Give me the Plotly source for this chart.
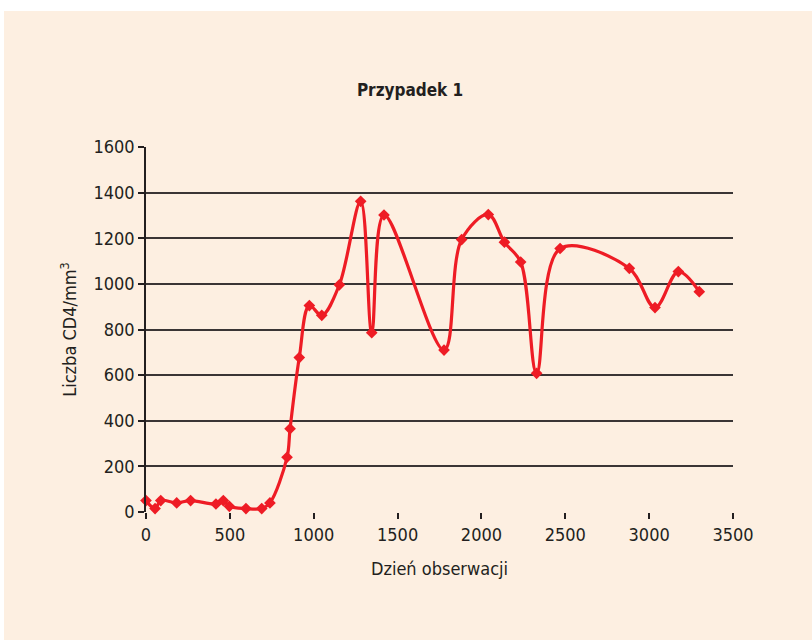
import plotly.graph_objects as go

days = [0, 54, 88, 183, 266, 417, 461, 497, 596, 690, 739, 841, 859, 914, 974,
        1048, 1153, 1280, 1346, 1419, 1777, 1882, 2041, 2137, 2234, 2329, 2469,
        2882, 3035, 3174, 3299]
cd4 = [50, 15, 50, 40, 50, 35, 50, 25, 15, 15, 40, 240, 365, 677, 905,
       862, 996, 1362, 786, 1302, 710, 1194, 1304, 1183, 1096, 608, 1155,
       1068, 896, 1054, 966]

xticks = [0, 500, 1000, 1500, 2000, 2500, 3000, 3500]
yticks = [0, 200, 400, 600, 800, 1000, 1200, 1400, 1600]

bg = "#FDEFE1"
red = "#EE1C25"
ink = "#231F20"
font = "DejaVu Sans Condensed, Liberation Sans Narrow, sans-serif"

fig = go.Figure()
fig.add_trace(go.Scatter(
    x=days, y=cd4, mode="lines+markers",
    line=dict(color=red, width=3.2, shape="spline", smoothing=1.0),
    marker=dict(symbol="diamond", size=9, color=red),
    cliponaxis=False, showlegend=False,
))

fig.update_layout(
    width=812, height=640,
    margin=dict(l=146, r=79, t=147, b=128),
    paper_bgcolor=bg, plot_bgcolor=bg,
    font=dict(family=font, color=ink, size=18),
    title=dict(text="<b>Przypadek 1</b>", x=0.505, xanchor="center",
               y=1 - 90 / 640, yanchor="middle", font=dict(size=17, color=ink)),
    xaxis=dict(range=[0, 3500], tickvals=xticks, showgrid=False,
               ticks="outside", ticklen=6, tickwidth=1.5, tickcolor=ink,
               showline=False, zeroline=False,
               title=dict(text="Dzień obserwacji", standoff=18, font=dict(size=18))),
    yaxis=dict(range=[0, 1600], tickvals=yticks, showgrid=True,
               gridcolor="#3a3535", gridwidth=1.5,
               ticks="outside", ticklen=6, tickwidth=1.5, tickcolor=ink,
               showline=True, linecolor=ink, linewidth=1.5,
               zeroline=False,
               title=dict(text="Liczba CD4/mm<sup>3</sup>", standoff=12, font=dict(size=18))),
    shapes=[
        dict(type="rect", xref="paper", yref="paper", x0=-1, x1=2,
             y0=1 + (147 - 11) / 365, y1=2, fillcolor="white",
             line=dict(width=0), layer="below"),
        dict(type="rect", xref="paper", yref="paper", x0=-1,
             x1=-(146 - 4) / 587, y0=-1, y1=2, fillcolor="white",
             line=dict(width=0), layer="below"),
    ],
)

fig.write_html("out.html", config={"displayModeBar": False},
               post_script="document.body.style.margin='0';document.body.style.overflow='hidden';")
